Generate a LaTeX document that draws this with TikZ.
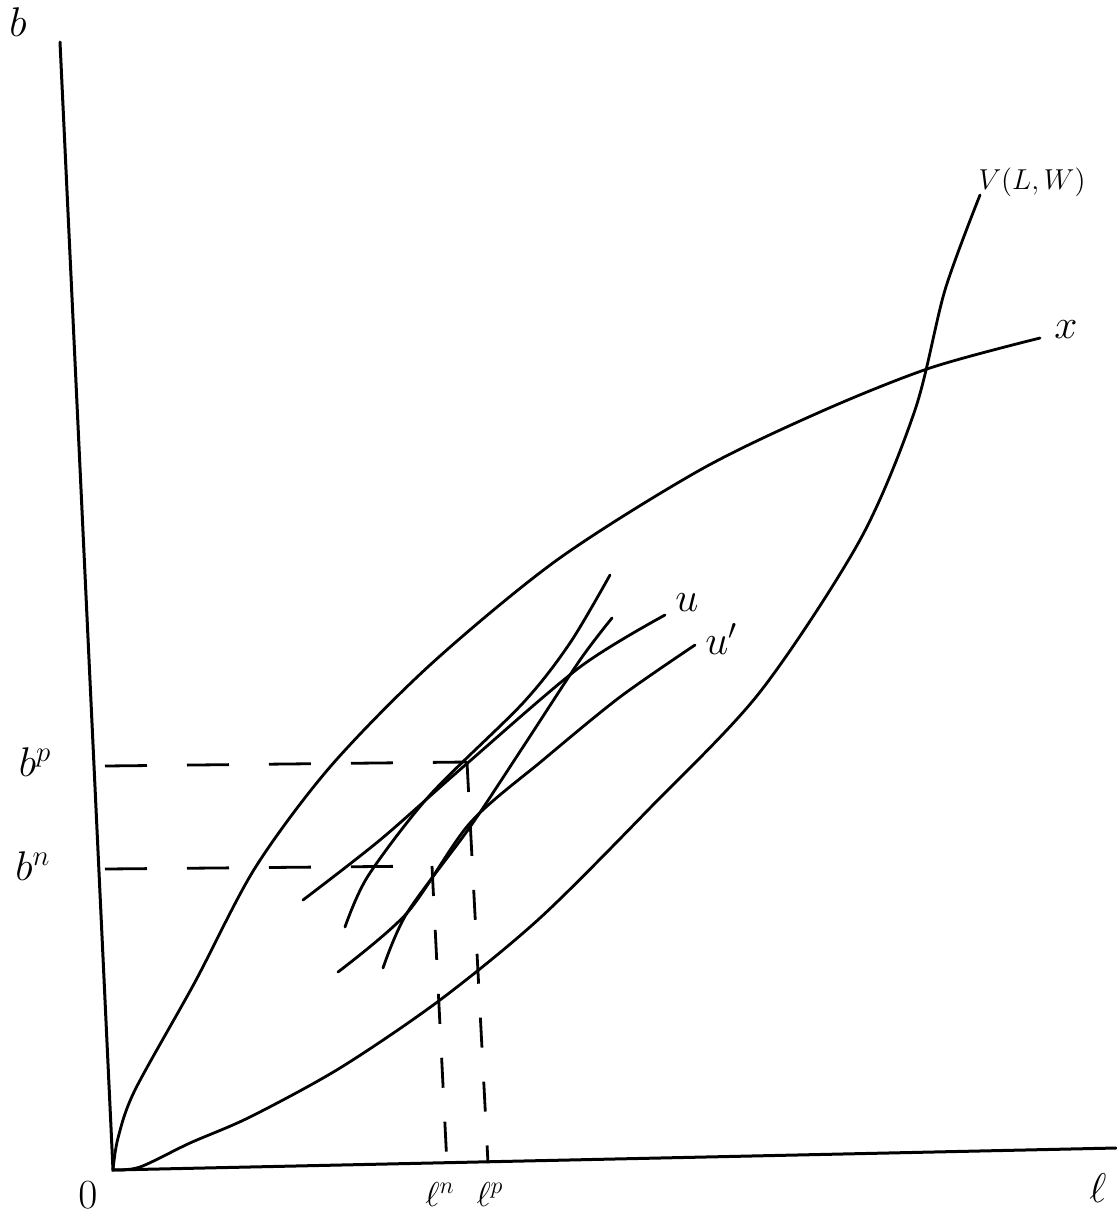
\documentclass[tikz,border=0pt]{standalone}
\usepackage{amsmath,amssymb}
\usepackage{tikz}
\usetikzlibrary{positioning}

\begin{document}
\begin{tikzpicture}[
    x=0.5pt, y=-0.5pt,
    axis/.style={line width=1.5pt, line cap=round},
    curve/.style={line width=1.4pt, line cap=round, smooth, tension=0.5},
    guide/.style={line width=1.4pt, dash pattern=on 21pt off 20pt},
    vguide/.style={line width=1.4pt, dash pattern=on 15pt off 17pt},
    lbl/.style={inner sep=1pt, font=\huge}
  ]
    \useasboundingbox (0,0) rectangle (1116,1222);

    % Axes
    \coordinate (O) at (113,1170);
    \coordinate (btop) at (60,42);
    \coordinate (lend) at (1116,1148);
    \draw[axis] (btop) -- (O) -- (lend);

    % Courbes x et V(L,W)
    \draw[curve] plot coordinates {(113,1170) (118,1138) (135,1090) (195,982)
      (255,868) (330,767) (430,665) (557,560) (700,470) (820,412) (930,368)
      (1040,338)};
    \coordinate (xend) at (1040,338);
    \draw[curve] plot coordinates {(113,1170) (140,1167) (190,1143) (250,1117)
      (340,1068) (440,1000) (540,918) (650,808) (760,692) (860,540) (915,410)
      (945,290) (980,195)};

    % Courbes u et u'
    \draw[curve] plot coordinates {(303,900) (380,840) (463,767) (580,667)
      (665,615)};
    \coordinate (uend) at (665,615);
    \draw[curve] plot coordinates {(338,972) (407,913) (470,823) (543,760)
      (620,697) (695,645)};
    \coordinate (uuend) at (695,645);

    % Courbes raides
    \draw[curve] plot coordinates {(345,927) (368,876) (430,795) (523,703)
      (570,643) (610,575)};
    \draw[curve] plot coordinates {(383,968) (407,913) (470,827) (523,747)
      (580,660) (612,618)};

    % Pointillés
    \coordinate (bp) at (105,766);
    \coordinate (pp) at (467,762);
    \coordinate (lp) at (488,1163);
    \coordinate (bn) at (105,869);
    \coordinate (np) at (432,866);
    \coordinate (ln) at (447,1165);
    \draw[guide] (bp) -- (pp);
    \draw[vguide] (pp) -- (lp);
    \draw[guide] (bn) -- (np);
    \draw[vguide] (np) -- (ln);

    % Etiquettes
    \node[lbl] (blabel) at (18,22) {$b$};
    \node[lbl] (zero) at (88,1195) {$0$};
    \node[lbl] (ell) at (1098,1188) {$\ell$};
    \node[lbl, font=\Large] (vlabel) at (1032,182) {$V(L,W)$};
    \node[lbl, right=6pt of xend, yshift=4pt] (xlabel) {$x$};
    \node[lbl, right=4pt of uend, yshift=6pt] (ulabel) {$u$};
    \node[lbl, right=4pt of uuend, yshift=3pt] (uulabel) {$u'$};
    \node[lbl] (bplabel) at (35,762) {$b^p$};
    \node[lbl] (bnlabel) at (33,866) {$b^n$};
    \node[lbl, font=\LARGE] (lnlabel) at (440,1194) {$\ell^n$};
    \node[lbl, font=\LARGE] (lplabel) at (490,1194) {$\ell^p$};
\end{tikzpicture}
\end{document}
